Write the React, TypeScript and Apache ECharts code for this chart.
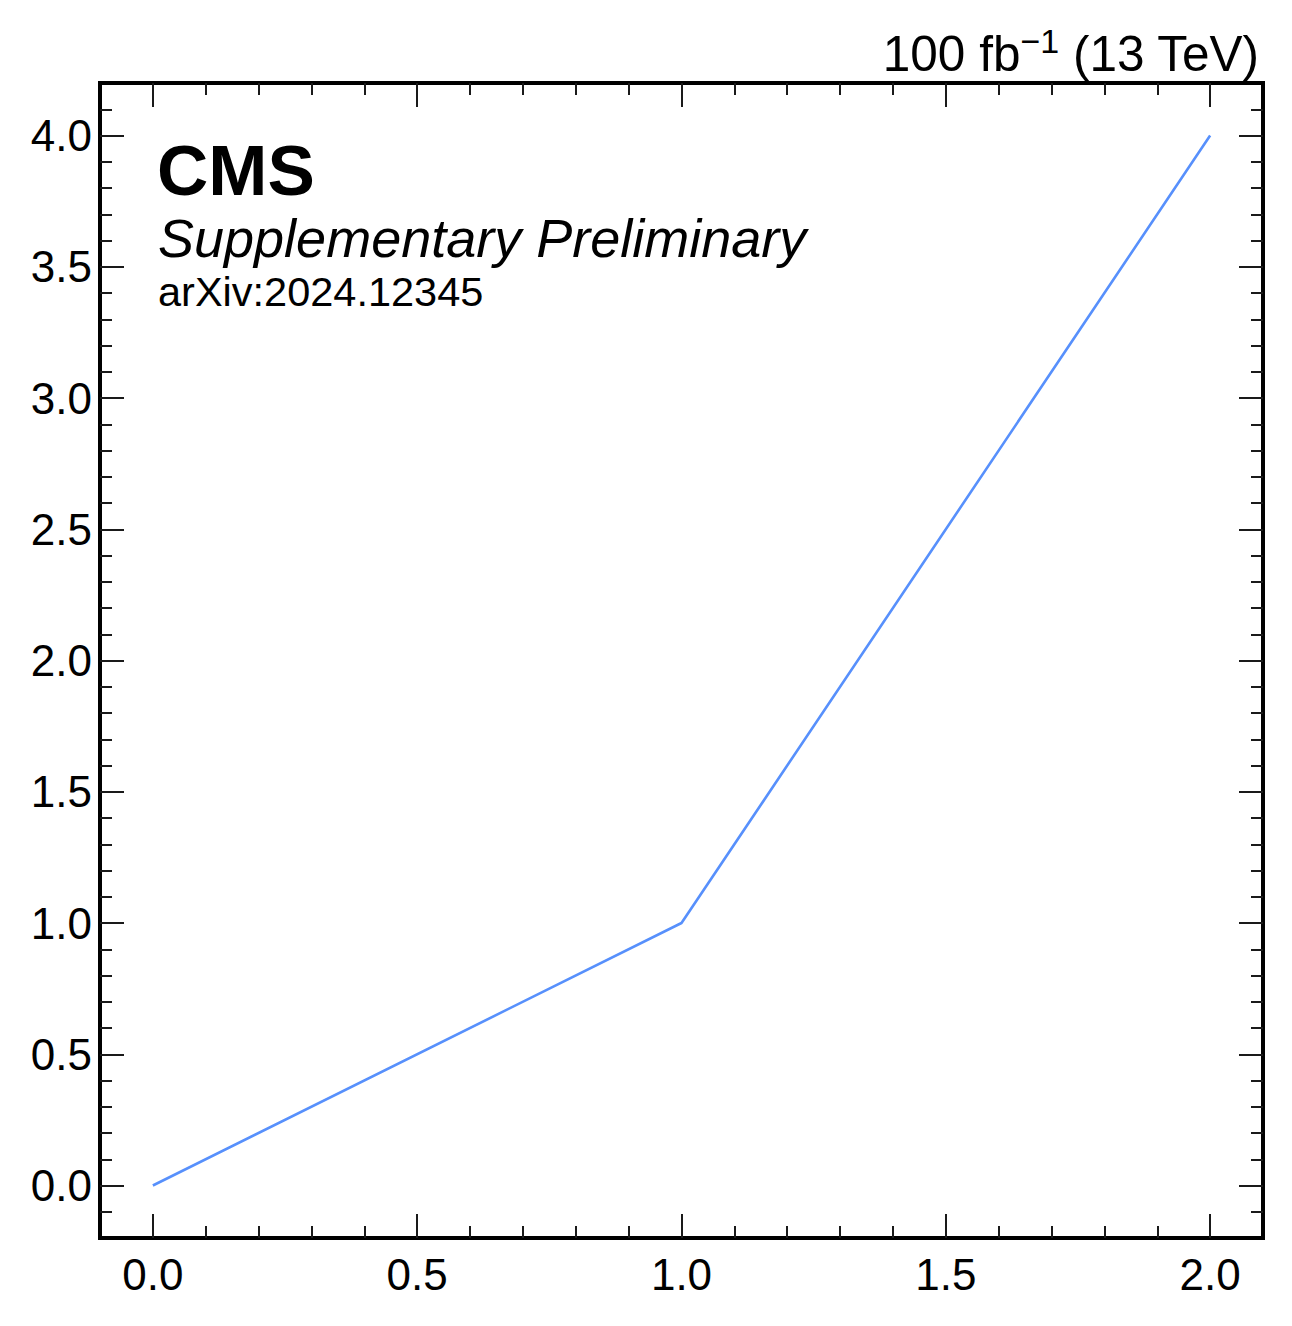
import React, { useEffect, useRef } from "react";
import * as echarts from "echarts";

const points: [number, number][] = [
  [0.0, 0.0],
  [1.0, 1.0],
  [2.0, 4.0],
];

const xMajorTicks = [0.0, 0.5, 1.0, 1.5, 2.0];
const xMinorTicks = [
  0.1, 0.2, 0.3, 0.4, 0.6, 0.7, 0.8, 0.9, 1.1, 1.2, 1.3, 1.4, 1.6, 1.7, 1.8, 1.9,
];
const yMajorTicks = [0.0, 0.5, 1.0, 1.5, 2.0, 2.5, 3.0, 3.5, 4.0];
const yMinorTicks = [
  -0.1, 0.1, 0.2, 0.3, 0.4, 0.6, 0.7, 0.8, 0.9, 1.1, 1.2, 1.3, 1.4, 1.6, 1.7, 1.8,
  1.9, 2.1, 2.2, 2.3, 2.4, 2.6, 2.7, 2.8, 2.9, 3.1, 3.2, 3.3, 3.4, 3.6, 3.7, 3.8,
  3.9, 4.1,
];

const xRange = [-0.1, 2.1];
const yRange = [-0.2, 4.2];

const FONT = "'Liberation Sans', Arial, Helvetica, sans-serif";
const TICK_COLOR = "#1a1a1a";

function xAxisDef(position: "top" | "bottom", ticks: number[], len: number, labels: boolean) {
  return {
    type: "value",
    position,
    min: xRange[0],
    max: xRange[1],
    axisLine: { show: false, onZero: false },
    splitLine: { show: false },
    axisTick: {
      show: true,
      inside: true,
      length: len,
      customValues: ticks,
      lineStyle: { color: TICK_COLOR, width: 2 },
    },
    axisLabel: labels
      ? {
          show: true,
          customValues: ticks,
          margin: 14,
          color: "#000",
          fontFamily: FONT,
          fontSize: 44,
          formatter: (v: number) => v.toFixed(1),
        }
      : { show: false },
  };
}

function yAxisDef(position: "left" | "right", ticks: number[], len: number, labels: boolean) {
  return {
    type: "value",
    position,
    min: yRange[0],
    max: yRange[1],
    axisLine: { show: false, onZero: false },
    splitLine: { show: false },
    axisTick: {
      show: true,
      inside: true,
      length: len,
      customValues: ticks,
      lineStyle: { color: TICK_COLOR, width: 2 },
    },
    axisLabel: labels
      ? {
          show: true,
          customValues: ticks,
          margin: 8,
          color: "#000",
          fontFamily: FONT,
          fontSize: 44,
          formatter: (v: number) => v.toFixed(1),
        }
      : { show: false },
  };
}

export default function App() {
  const ref = useRef<HTMLDivElement>(null);
  useEffect(() => {
    if (!ref.current) return;
    const chart = echarts.init(ref.current, undefined, { renderer: "svg" });
    chart.setOption({
      animation: false,
      backgroundColor: "#fff",
      grid: {
        left: 100,
        right: 29,
        top: 83,
        bottom: 88,
        show: true,
        borderColor: "#000",
        borderWidth: 4,
        backgroundColor: "transparent",
        containLabel: false,
      },
      xAxis: [
        xAxisDef("bottom", xMajorTicks, 24, true),
        xAxisDef("bottom", xMinorTicks, 12, false),
        xAxisDef("top", xMajorTicks, 24, false),
        xAxisDef("top", xMinorTicks, 12, false),
      ],
      yAxis: [
        yAxisDef("left", yMajorTicks, 24, true),
        yAxisDef("left", yMinorTicks, 12, false),
        yAxisDef("right", yMajorTicks, 24, false),
        yAxisDef("right", yMinorTicks, 12, false),
      ],
      series: [
        {
          type: "line",
          xAxisIndex: 0,
          yAxisIndex: 0,
          data: points,
          showSymbol: false,
          symbol: "none",
          lineStyle: { color: "#5790fc", width: 2.6 },
          z: 5,
        },
      ],
      graphic: [
        {
          type: "text",
          left: 157,
          top: 135,
          style: {
            text: "CMS",
            font: `bold 71px ${FONT}`,
            fill: "#000",
          },
        },
        {
          type: "text",
          left: 158,
          top: 211,
          style: {
            text: "Supplementary Preliminary",
            font: `italic 54px ${FONT}`,
            fill: "#000",
          },
        },
        {
          type: "text",
          left: 158,
          top: 270,
          style: {
            text: "arXiv:2024.12345",
            font: `41.5px ${FONT}`,
            fill: "#000",
          },
        },
        {
          type: "text",
          right: 32,
          top: 24,
          style: {
            text: "{a|100 fb}{s|−1}{a| (13 TeV)}",
            fill: "#000",
            rich: {
              a: { fontFamily: FONT, fontSize: 49.5, fill: "#000", color: "#000" },
              s: {
                fontFamily: FONT,
                fontSize: 34,
                fill: "#000",
                color: "#000",
                padding: [0, 0, 24, 0],
              },
            },
          },
        },
      ],
    });
    return () => chart.dispose();
  }, []);
  return (
    <div
      ref={ref}
      style={{ position: "absolute", left: 0, top: 0, width: 1292, height: 1326, background: "#fff" }}
    />
  );
}
